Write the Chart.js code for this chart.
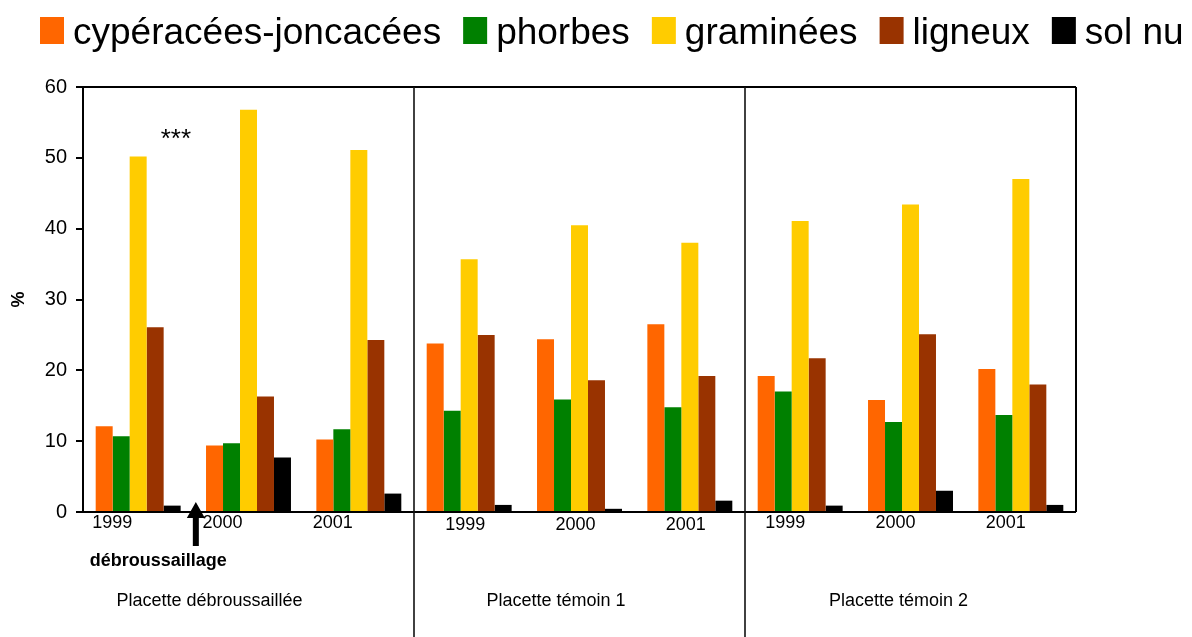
<!DOCTYPE html>
<html>
<head>
<meta charset="utf-8">
<script src="https://cdn.jsdelivr.net/npm/chart.js@4/dist/chart.umd.min.js"></script>
<style>
html,body{margin:0;padding:0;background:#fff;}
#wrap{position:relative;width:1192px;height:637px;}
</style>
</head>
<body>
<div id="wrap"><canvas id="c" width="1192" height="637"></canvas></div>
<script>
// ---- data ----
const categories = ['1999','2000','2001','1999','2000','2001','1999','2000','2001'];
const groupNames = ['Placette débroussaillée','Placette témoin 1','Placette témoin 2'];
const seriesNames = ['cypéracées-joncacées','phorbes','graminées','ligneux','sol nu'];
const cyperacees = [12.1, 9.4, 10.25, 23.8, 24.4, 26.5, 19.2, 15.8, 20.2];
const phorbes    = [10.7, 9.7, 11.7, 14.3, 15.9, 14.8, 17.0, 12.7, 13.7];
const graminees  = [50.2, 56.8, 51.1, 35.7, 40.5, 38.0, 41.1, 43.4, 47.0];
const ligneux    = [26.1, 16.3, 24.3, 25.0, 18.6, 19.2, 21.7, 25.1, 18.0];
const solNu      = [0.9, 7.7, 2.6, 1.0, 0.45, 1.6, 0.9, 3.0, 1.0];
const yTicks = [0, 10, 20, 30, 40, 50, 60];
const yTitle = '%';
const signifText = '***';
const eventText = 'débroussaillage';

const colors = ['#FF6600', '#008000', '#FFCC00', '#993300', '#000000'];
const FONT = '"Liberation Sans", Arial, Helvetica, sans-serif';

const values = [cyperacees, phorbes, graminees, ligneux, solNu];
const datasets = seriesNames.map((n, i) => ({
  label: n,
  data: values[i],
  backgroundColor: colors[i],
  borderWidth: 0,
  categoryPercentage: 0.77,
  barPercentage: 1.0
}));

const decorPlugin = {
  id: 'decor',
  afterDraw(chart) {
    const ctx = chart.ctx;
    const xs = chart.scales.x, ys = chart.scales.y;
    const ca = chart.chartArea;
    const stride = xs.getPixelForValue(1) - xs.getPixelForValue(0);
    const y0 = ys.getPixelForValue(0);
    ctx.save();
    ctx.strokeStyle = '#000';
    // top & right frame
    ctx.lineWidth = 2;
    ctx.beginPath();
    ctx.moveTo(ca.left, ca.top); ctx.lineTo(ca.right, ca.top);
    ctx.moveTo(ca.right, ca.top); ctx.lineTo(ca.right, y0);
    ctx.stroke();
    // zero line
    ctx.beginPath();
    ctx.moveTo(ca.left - 7, y0); ctx.lineTo(ca.right, y0);
    ctx.stroke();
    // panel dividers
    ctx.lineWidth = 1.6;
    ctx.strokeStyle = '#111';
    [2, 5].forEach(i => {
      const x = (xs.getPixelForValue(i) + xs.getPixelForValue(i + 1)) / 2;
      ctx.beginPath();
      ctx.moveTo(x, ca.top); ctx.lineTo(x, chart.height);
      ctx.stroke();
    });
    // year labels
    ctx.fillStyle = '#000';
    ctx.font = '18px ' + FONT;
    ctx.textAlign = 'center';
    ctx.textBaseline = 'alphabetic';
    const yearShift = [-26, -4, -15];
    const yearBase = [528, 530, 528];
    categories.forEach((c, i) => {
      const p = Math.floor(i / 3);
      ctx.fillText(c, xs.getPixelForValue(i) + yearShift[p], yearBase[p]);
    });
    // panel names
    const nameShift = [-39, -23.5, -12];
    groupNames.forEach((g, p) => {
      const cx = (xs.getPixelForValue(p * 3) + xs.getPixelForValue(p * 3 + 2)) / 2;
      ctx.fillText(g, cx + nameShift[p], 606);
    });
    // significance
    const mid01 = (xs.getPixelForValue(0) + xs.getPixelForValue(1)) / 2;
    ctx.font = '26px ' + FONT;
    ctx.fillText(signifText, mid01 - 17.5, 147);
    // arrow
    const ax = mid01 + 2.5;
    ctx.beginPath();
    ctx.moveTo(ax, 502);
    ctx.lineTo(ax + 9, 518);
    ctx.lineTo(ax + 3, 518);
    ctx.lineTo(ax + 3, 546);
    ctx.lineTo(ax - 3, 546);
    ctx.lineTo(ax - 3, 518);
    ctx.lineTo(ax - 9, 518);
    ctx.closePath();
    ctx.fill();
    ctx.font = 'bold 18px ' + FONT;
    ctx.fillText(eventText, xs.getPixelForValue(0) + 20, 566);
    // legend
    ctx.textAlign = 'left';
    ctx.font = '37px ' + FONT;
    let x = 40;
    chart.data.datasets.forEach(ds => {
      ctx.fillStyle = ds.backgroundColor;
      ctx.fillRect(x, 17, 24, 27);
      x += 24 + 9;
      ctx.fillStyle = '#000';
      ctx.fillText(ds.label, x, 44);
      x += ctx.measureText(ds.label).width + 22;
    });
    ctx.restore();
  }
};

new Chart(document.getElementById('c'), {
  type: 'bar',
  data: { labels: categories, datasets: datasets },
  options: {
    responsive: false,
    animation: false,
    events: [],
    layout: { padding: { left: 0, top: 87, right: 116, bottom: 125 } },
    plugins: { legend: { display: false }, tooltip: { enabled: false } },
    scales: {
      x: { display: false, offset: true },
      y: {
        min: 0, max: 60,
        afterBuildTicks(s) { s.ticks = yTicks.map(v => ({ value: v })); },
        afterFit(s) { s.width = 83; },
        ticks: { color: '#000', font: { size: 20, family: FONT }, padding: 9 },
        grid: { display: true, drawOnChartArea: false, drawTicks: true, tickLength: 7, color: '#000', lineWidth: 2 },
        border: { display: true, color: '#000', width: 2 },
        title: { display: true, text: yTitle, color: '#000', font: { size: 18, weight: 'bold', family: FONT }, padding: { top: 8, bottom: 0 } }
      }
    }
  },
  plugins: [decorPlugin]
});
</script>
</body>
</html>
